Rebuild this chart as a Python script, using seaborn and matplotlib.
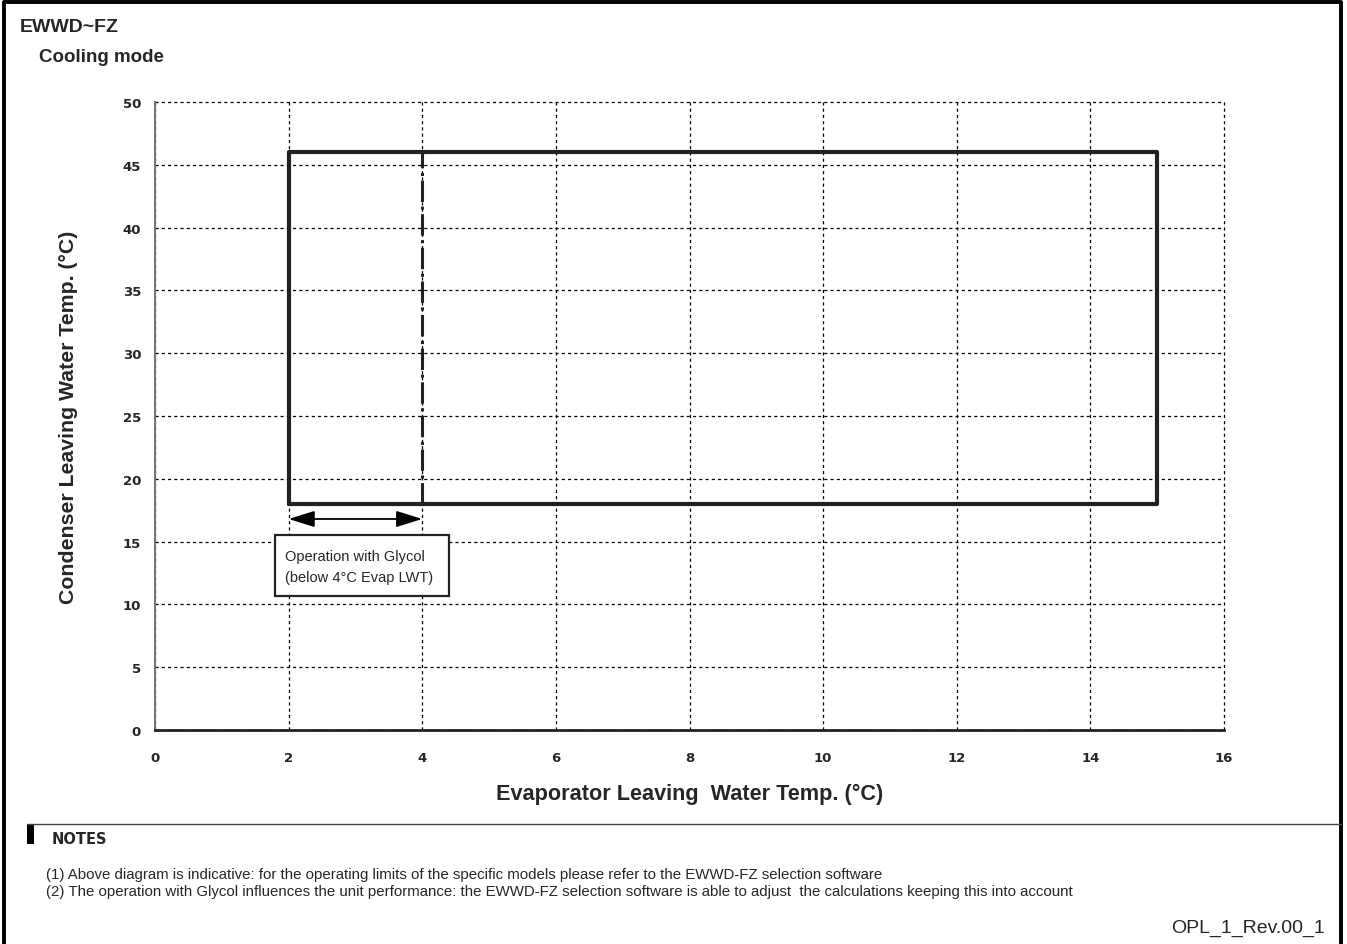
import matplotlib
matplotlib.use('Agg')
import matplotlib.pyplot as plt
import seaborn as sns
import pandas as pd

# operating envelope (cooling mode)
env_x = [2, 15, 15, 2, 2]
env_y = [18, 18, 46, 46, 18]

# glycol limit line
glycol_x = [4, 4]
glycol_y = [18, 46]

# arrow showing the glycol range
arrow_x = [2, 4]
arrow_y = 16.8

x_ticks = [0, 2, 4, 6, 8, 10, 12, 14, 16]
y_ticks = [0, 5, 10, 15, 20, 25, 30, 35, 40, 45, 50]

notes = [
    "(1) Above diagram is indicative: for the operating limits of the specific models please refer to the EWWD-FZ selection software",
    "(2) The operation with Glycol influences the unit performance: the EWWD-FZ selection software is able to adjust  the calculations keeping this into account",
]

sns.set_style('white')
plt.rcParams['font.family'] = ['Liberation Sans', 'DejaVu Sans']

W, H = 1347, 945
fig = plt.figure(figsize=(W / 100, H / 100), dpi=100)
ax = fig.add_axes([155 / W, 214 / H, 1069 / W, 628 / H])

env_df = pd.DataFrame({'x': env_x, 'y': env_y})
sns.lineplot(data=env_df, x='x', y='y', sort=False, estimator=None, color='#222222',
             linewidth=3, ax=ax, zorder=4)
sns.lineplot(x=glycol_x, y=glycol_y, sort=False, estimator=None, color='#222222',
             linewidth=2.2, ax=ax, zorder=4)
ax.lines[-1].set_dashes([7, 1.5, 1, 1.5])

ax.annotate('', xy=(arrow_x[0], arrow_y), xytext=(arrow_x[1], arrow_y),
            arrowprops=dict(arrowstyle='<|-|>,head_length=0.8,head_width=0.25',
                            color='black', lw=1.3, mutation_scale=20,
                            shrinkA=0, shrinkB=0), zorder=5)

# glycol note box
ax.add_patch(plt.Rectangle((1.796, 10.67), 2.604, 4.86, fc='white', ec='#222222',
                           lw=1.6, zorder=6))
ax.text(1.946, 13.85, 'Operation with Glycol', fontsize=10.5, va='center', ha='left', zorder=7)
ax.text(1.946, 12.18, '(below 4°C Evap LWT)', fontsize=10.5, va='center', ha='left', zorder=7)

ax.set_xlim(0, 16)
ax.set_ylim(0, 50)
ax.set_xticks(x_ticks)
ax.set_yticks(y_ticks)
ax.tick_params(axis='both', length=5, width=1, color='#555555', labelsize=9.5)
ax.tick_params(axis='y', pad=5)
ax.tick_params(axis='x', pad=10)
for lab in ax.get_xticklabels() + ax.get_yticklabels():
    lab.set_fontweight('bold')
    lab.set_family('DejaVu Sans')
ax.grid(True, color='black', linestyle=(0, (2.5, 2.5)), linewidth=0.9)
for gl in ax.get_xgridlines() + ax.get_ygridlines():
    gl.set_clip_on(False)
ax.set_axisbelow(True)
for side in ['top', 'right']:
    ax.spines[side].set_visible(False)
ax.spines['left'].set_color('#777777')
ax.spines['left'].set_linewidth(1.5)
ax.spines['bottom'].set_color('#222222')
ax.spines['bottom'].set_linewidth(2)

ax.set_xlabel('Evaporator Leaving  Water Temp. (°C)', fontsize=15.6, fontweight='bold', labelpad=14)
ax.set_ylabel('Condenser Leaving Water Temp. (°C)', fontsize=15.3, fontweight='bold', labelpad=32)

# page frame (bottom edge runs off the page) and headings
fig.add_artist(plt.Line2D([4 / W, 4 / W, 1341 / W, 1341 / W],
                          [-0.05, 1 - 3 / H, 1 - 3 / H, -0.05], color='black', lw=2.8))
fig.text(20 / W, 1 - 27 / H, 'EWWD~FZ', fontsize=14, fontweight='bold', va='center')
fig.text(39 / W, 1 - 57 / H, 'Cooling mode', fontsize=13.5, fontweight='bold', va='center')

# notes block
fig.add_artist(plt.Line2D([27 / W, 1341 / W], [1 - 825 / H] * 2, color='#444444', lw=1))
fig.add_artist(plt.Rectangle((27 / W, 1 - 845 / H), 7 / W, 20 / H,
                             transform=fig.transFigure, fc='black', ec='none'))
fig.text(52 / W, 1 - 840 / H, 'NOTES', fontsize=10.5, fontweight='bold', va='center',
         family='DejaVu Sans')
for i, note in enumerate(notes):
    fig.text(46 / W, 1 - (875 + 17 * i) / H, note, fontsize=10.8, va='center')
fig.text(1325 / W, 1 - 928 / H, 'OPL_1_Rev.00_1', fontsize=14, va='center', ha='right')

fig.savefig('out.png', dpi=100)
